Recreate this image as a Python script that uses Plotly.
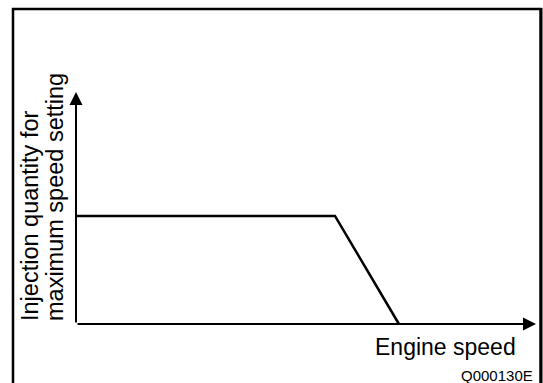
import plotly.graph_objects as go

# characteristic curve, normalised units (axis arrow tips at 1.0)
engine_speed = [0.0, 0.563, 0.702]
injection_qty = [0.466, 0.466, 0.0]

y_label_lines = ["Injection quantity for", "maximum speed setting"]
x_label = "Engine speed"
fig_code = "Q000130E"

W, H = 543, 383
FONT = "Arial, Liberation Sans, sans-serif"


def px_x(p):
    return p / W


def px_y(p):
    return 1 - p / H


X0, Y0 = 76, 324     # origin in pixels
SX, SY = 460, 232    # pixels per unit

fig = go.Figure()

fig.add_trace(go.Scatter(
    x=engine_speed, y=injection_qty, mode="lines",
    line=dict(color="black", width=2.5), hoverinfo="skip",
))

# axes drawn as arrows
arrow = dict(showarrow=True, arrowhead=2, arrowsize=1.3, arrowwidth=2,
             arrowcolor="black", axref="x", ayref="y", xref="x", yref="y", text="")
fig.add_annotation(x=1.0, y=0, ax=0, ay=0, **arrow)
fig.add_annotation(x=0, y=1.0, ax=0, ay=0, **arrow)

# frame (right edge drawn a bit heavier, like the original)
fig.add_shape(type="rect", xref="paper", yref="paper",
              x0=px_x(13), x1=px_x(540.5), y0=px_y(392), y1=px_y(9),
              line=dict(color="black", width=2.5))
fig.add_shape(type="line", xref="paper", yref="paper",
              x0=px_x(541.5), x1=px_x(541.5), y0=px_y(392), y1=px_y(8),
              line=dict(color="black", width=2))

fig.add_annotation(text=x_label, xref="paper", yref="paper",
                   x=px_x(518), y=px_y(347), xanchor="right", yanchor="middle",
                   showarrow=False, font=dict(family=FONT, size=23, color="black"))
fig.add_annotation(text=fig_code, xref="paper", yref="paper",
                   x=px_x(535), y=px_y(375), xanchor="right", yanchor="middle",
                   showarrow=False, font=dict(family=FONT, size=15, color="black"))

for i, line in enumerate(y_label_lines):
    fig.add_annotation(text=line, xref="paper", yref="paper", textangle=-90,
                       x=px_x(30 + 25 * i), y=px_y(323), xanchor="center", yanchor="bottom",
                       showarrow=False, font=dict(family=FONT, size=23.5, color="black"))

fig.update_xaxes(range=[-X0 / SX, (W - X0) / SX], visible=False, fixedrange=True)
fig.update_yaxes(range=[-(H - Y0) / SY, Y0 / SY], visible=False, fixedrange=True)

fig.update_layout(
    width=W, height=H, margin=dict(l=0, r=0, t=0, b=0),
    paper_bgcolor="white", plot_bgcolor="white", showlegend=False,
)

# drop the default 8px page margin so the figure fills the window
fig.write_html("out.html", config={"displayModeBar": False},
               post_script="document.body.style.margin='0';document.body.style.overflow='hidden';")
